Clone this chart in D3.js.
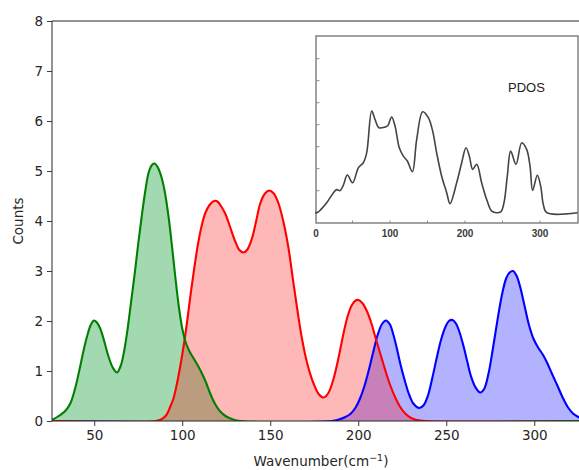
<!DOCTYPE html>
<html><head><meta charset="utf-8">
<script src="https://cdn.jsdelivr.net/npm/d3@7"></script>
<style>body{margin:0;background:#fff}svg{display:block}</style>
</head><body>
<svg id="c" width="579" height="470"></svg>
<script>
// ---- data ----
const xTicks = [50, 100, 150, 200, 250, 300];
const yTicks = [0, 1, 2, 3, 4, 5, 6, 7, 8];
const insetXTicks = [0, 100, 200, 300];
const insetMinorX = [50, 150, 250];
const insetYTicks = [1, 2, 3, 4, 5, 6, 7];

const greenSeries = [[26,0.02],[30.7,0.12],[33.5,0.2],[36.4,0.35],[39.2,0.66],[42,1.09],[44,1.42],[45.9,1.69],[48,1.92],[49.8,2.01],[51.5,1.97],[53.4,1.85],[55.8,1.58],[58.1,1.29],[60.5,1.07],[62.9,0.97],[65,1.1],[67,1.4],[69,1.85],[71,2.4],[73,2.95],[75,3.55],[77,4.1],[79,4.6],[81,4.98],[83,5.13],[84.3,5.15],[86,5.08],[88,4.9],[90,4.6],[92.2,4.09],[94,3.55],[96,2.9],[98,2.3],[100,1.85],[102,1.57],[104,1.4],[106.5,1.25],[109,1.1],[111.2,0.95],[113.5,0.77],[115.9,0.55],[118.5,0.35],[121.6,0.19],[125,0.09],[128.2,0.04],[133,0],[327,0]];
const redSeries = [[26,0],[85,0],[88,0.03],[91,0.12],[93,0.27],[95,0.45],[97,0.75],[99,1.12],[101,1.55],[103,2.05],[105,2.6],[107,3.1],[109,3.55],[111,3.9],[113,4.15],[115.5,4.32],[118,4.4],[120,4.39],[122,4.3],[124.4,4.15],[127,3.9],[130,3.6],[132.5,3.42],[134.8,3.37],[137,3.43],[139.6,3.65],[142,4.0],[144.3,4.35],[147,4.55],[149.4,4.61],[152,4.55],[154.7,4.35],[157.5,3.98],[160.4,3.45],[163,2.8],[165.5,2.2],[168,1.65],[171,1.15],[174.6,0.75],[177.5,0.54],[180.3,0.47],[183,0.56],[186,0.85],[189,1.3],[191.6,1.75],[194,2.1],[196.4,2.32],[198.5,2.41],[200.2,2.42],[202.5,2.35],[205,2.19],[207.5,1.95],[209.7,1.68],[212.5,1.35],[215.3,1.02],[218,0.73],[221,0.47],[224,0.27],[226.7,0.15],[230,0.06],[233.3,0.02],[238,0],[327,0]];
const blueSeries = [[26,0],[185,0],[189,0.03],[192,0.07],[195.5,0.14],[198.5,0.27],[201,0.45],[203.5,0.7],[206,1.02],[208.5,1.38],[211,1.72],[213.5,1.94],[215.7,2.01],[218,1.93],[220,1.72],[222,1.44],[224,1.13],[226.5,0.8],[229,0.52],[231.5,0.34],[234.6,0.26],[237,0.31],[239.5,0.5],[242,0.85],[244.5,1.25],[247,1.62],[249.5,1.88],[251.5,2.0],[253.6,2.02],[255.5,1.95],[257.5,1.78],[260,1.47],[262,1.18],[264,0.9],[266.5,0.68],[269.3,0.57],[271.5,0.64],[274,0.95],[276.5,1.45],[279,2.0],[281.5,2.5],[284,2.85],[286,2.97],[287.9,3.0],[290,2.9],[292,2.68],[294.5,2.3],[297,1.92],[299.5,1.65],[302,1.48],[305,1.32],[307.5,1.15],[310,0.95],[313,0.72],[316,0.48],[319,0.28],[322,0.15],[325,0.08],[327,0.05]];
const pdosSeries = [[0,0],[4,0.02],[8,0.15],[15.6,0.45],[24.4,0.9],[28.9,1.05],[33.3,1.0],[37.8,1.25],[43.1,1.71],[50.2,1.36],[57.8,2.04],[64.4,2.27],[68.9,2.72],[75.6,4.62],[80,4.24],[85.3,3.86],[93.3,3.89],[97,3.95],[102.2,4.35],[106.7,3.94],[112.4,2.95],[117.8,2.57],[123.1,2.35],[129.8,1.86],[135.6,3.33],[143.6,4.59],[151.1,4.32],[156.9,3.71],[162.2,2.72],[168.9,1.66],[175.6,0.91],[180,0.41],[188.9,1.36],[195.6,2.27],[201.3,2.95],[205.8,2.57],[210.2,1.97],[215.6,2.2],[222.2,1.36],[228.9,0.6],[235.6,0.07],[242.2,0],[248,0.05],[252,0.45],[256.4,1.66],[260.9,2.8],[268,2.2],[275.6,3.18],[282.2,2.88],[286.7,2.12],[290.2,1.01],[296.4,1.7],[300.9,1.21],[304.4,0.38],[308.9,0],[350,0]];

// ---- layout ----
const svg = d3.select("#c");
const M = {l: 52, t: 21, b: 421, r: 581.8};
const x = d3.scaleLinear().domain([26, 327]).range([M.l, M.r]);
const y = d3.scaleLinear().domain([0, 8]).range([M.b, M.t]);

const defs = svg.append("defs");
defs.append("clipPath").attr("id", "pc").append("rect")
  .attr("x", M.l).attr("y", M.t).attr("width", M.r - M.l).attr("height", M.b - M.t);

const curve = d3.curveCatmullRom.alpha(0.5);
const plot = svg.append("g").attr("clip-path", "url(#pc)");
const area = d3.area().x(d => x(d[0])).y0(y(0)).y1(d => y(d[1])).curve(curve);
const line = d3.line().x(d => x(d[0])).y(d => y(d[1])).curve(curve);

const blue = {d: blueSeries, fill: "rgba(0,0,255,0.3)", stroke: "#0000ff"};
const red = {d: redSeries, fill: "rgba(255,0,0,0.28)", stroke: "#ff0000"};
const green = {d: greenSeries, fill: "rgba(0,150,40,0.36)", stroke: "#008000"};
[blue, green, red].forEach(s => {
  plot.append("path").datum(s.d).attr("d", area).attr("fill", s.fill);
});
[blue, red, green].forEach(s => {
  plot.append("path").datum(s.d).attr("d", line).attr("fill", "none")
    .attr("stroke", s.stroke).attr("stroke-width", 2.1).attr("stroke-linejoin", "round");
});

// axes
const fontFam = "DejaVu Sans, sans-serif";
const xAxis = svg.append("g").attr("transform", `translate(0,${M.b})`)
  .call(d3.axisBottom(x).tickValues(xTicks).tickSize(5).tickPadding(4).tickSizeOuter(0));
const yAxis = svg.append("g").attr("transform", `translate(${M.l},0)`)
  .call(d3.axisLeft(y).tickValues(yTicks).tickSize(5).tickPadding(4).tickSizeOuter(0));
[xAxis, yAxis].forEach(a => {
  a.selectAll("text").attr("font-family", fontFam).attr("font-size", 13.5).attr("fill", "#262626");
  a.selectAll("line").attr("stroke", "#262626").attr("stroke-width", 0.9);
  a.select(".domain").remove();
});
// spines
svg.append("line").attr("x1", M.l).attr("x2", M.r).attr("y1", M.t).attr("y2", M.t).attr("stroke", "#262626").attr("stroke-width", 1);
svg.append("line").attr("x1", M.l).attr("x2", M.l).attr("y1", M.t).attr("y2", M.b).attr("stroke", "#262626").attr("stroke-width", 1);
svg.append("line").attr("x1", M.l).attr("x2", M.r).attr("y1", M.b).attr("y2", M.b).attr("stroke", "#262626").attr("stroke-width", 1);

// labels
svg.append("text").attr("transform", "translate(23,221) rotate(-90)").attr("text-anchor", "middle")
  .attr("font-family", fontFam).attr("font-size", 13.5).attr("fill", "#262626").text("Counts");
const xl = svg.append("text").attr("x", 321).attr("y", 466).attr("text-anchor", "middle")
  .attr("font-family", fontFam).attr("font-size", 13.5).attr("fill", "#262626");
xl.append("tspan").text("Wavenumber(cm");
xl.append("tspan").attr("dy", -5).attr("font-size", 9.5).text("\u22121");
xl.append("tspan").attr("dy", 5).text(")");

// ---- inset ----
const I = {l: 316, r: 578, t: 36, b: 223};
const ix = d3.scaleLinear().domain([0, 350]).range([315, 577.5]);
const iy = d3.scaleLinear().domain([0, 1]).range([212.7, 190.7]);
const ig = svg.append("g");
ig.append("rect").attr("x", I.l).attr("y", I.t).attr("width", I.r - I.l).attr("height", I.b - I.t)
  .attr("fill", "#fff").attr("stroke", "#7a7a7a").attr("stroke-width", 1.4);
insetYTicks.forEach(t => {
  ig.append("line").attr("x1", I.l).attr("x2", I.l + 3.5).attr("y1", iy(t)).attr("y2", iy(t))
    .attr("stroke", "#8a8a8a").attr("stroke-width", 1);
});
insetMinorX.concat(insetXTicks.slice(1)).forEach(t => {
  ig.append("line").attr("x1", ix(t)).attr("x2", ix(t)).attr("y1", I.b).attr("y2", I.b - 2.5)
    .attr("stroke", "#8a8a8a").attr("stroke-width", 1);
});
insetXTicks.forEach(t => {
  ig.append("text").attr("x", ix(t) + (t === 0 ? 1 : 0)).attr("y", 237).attr("text-anchor", "middle")
    .attr("font-family", "Liberation Sans, Arial, sans-serif").attr("font-weight", "bold")
    .attr("font-size", 10).attr("fill", "#3a3a3a").text(t);
});
const iline = d3.line().x(d => ix(d[0])).y(d => iy(d[1])).curve(curve);
ig.append("path").datum(pdosSeries).attr("d", iline).attr("fill", "none")
  .attr("stroke", "#444").attr("stroke-width", 1.6).attr("stroke-linejoin", "round");
ig.append("text").attr("x", 508).attr("y", 92).attr("font-family", "Liberation Sans, Arial, sans-serif")
  .attr("font-size", 13).attr("fill", "#222").text("PDOS");
</script>
</body></html>
